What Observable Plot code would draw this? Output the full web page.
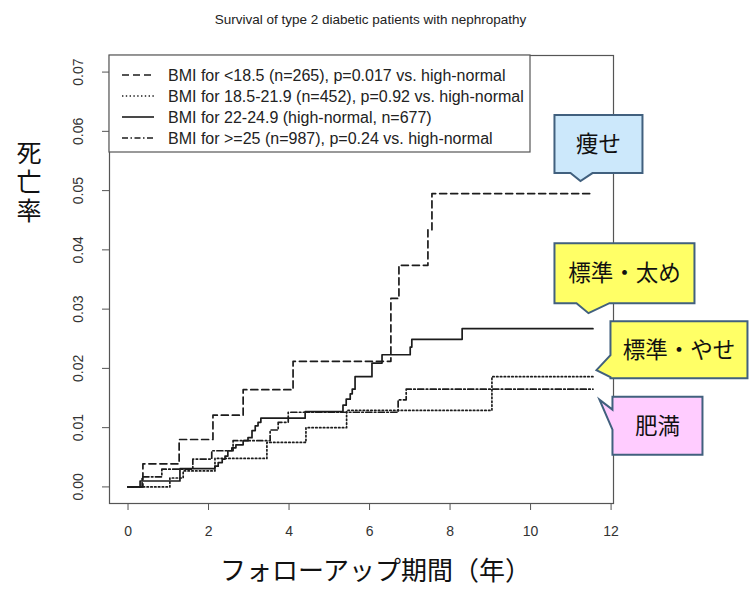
<!DOCTYPE html>
<html><head><meta charset="utf-8">
<script src="https://cdn.jsdelivr.net/npm/d3@7"></script>
<script src="https://cdn.jsdelivr.net/npm/@observablehq/plot@0.6"></script>
<style>
body{margin:0;background:#fff}
#chart{position:relative;width:750px;height:595px}
</style>
</head><body><div id="chart"></div>
<script>
// ---------- text ----------
const chartTitle = "Survival of type 2 diabetic patients with nephropathy";
const xLabel = "フォローアップ期間（年）";
const yLabel = "死亡率";
const xTicks = [0, 2, 4, 6, 8, 10, 12];
const yTicks = [0.00, 0.01, 0.02, 0.03, 0.04, 0.05, 0.06, 0.07];
const seriesKeys = ["lt18", "mid", "normal", "ge25"];
const seriesLabels = [
  "BMI for <18.5 (n=265), p=0.017 vs. high-normal",
  "BMI for 18.5-21.9 (n=452), p=0.92 vs. high-normal",
  "BMI for 22-24.9 (high-normal, n=677)",
  "BMI for >=25 (n=987), p=0.24 vs. high-normal"
];
const calloutLabels = ["痩せ", "標準・やせ", "標準・太め", "肥満"];

// ---------- series (years, cumulative mortality) ----------
const lt18Time = [0, 0.37, 1.27, 2.11, 2.86, 4.10, 6.53, 6.73, 7.45, 7.55, 11.55];
const lt18Risk = [0, 0.0039, 0.0080, 0.0121, 0.0164, 0.0212, 0.0318, 0.0374, 0.0434, 0.0495, 0.0495];

const midTime = [0, 1.04, 1.37, 2.16, 3.45, 4.42, 5.43, 9.04, 11.55];
const midRisk = [0, 0.0015, 0.0027, 0.0048, 0.0075, 0.0100, 0.0129, 0.0186, 0.0186];

const normalTime = [0, 0.30, 1.29, 2.16, 2.24, 2.34, 2.41, 2.48, 2.58, 2.68, 2.86, 2.98, 3.08, 3.16, 3.23, 3.30, 4.40, 5.34, 5.42, 5.52, 5.57, 5.64, 6.06, 6.31, 7.01, 7.05, 8.30, 11.55];
const normalRisk = [0, 0.0010, 0.0031, 0.0035, 0.0041, 0.0047, 0.0052, 0.0061, 0.0066, 0.0071, 0.0078, 0.0083, 0.0095, 0.0103, 0.0109, 0.0116, 0.0127, 0.0138, 0.0148, 0.0157, 0.0165, 0.0186, 0.0209, 0.0223, 0.0236, 0.0249, 0.0267, 0.0267];

const ge25Time = [0, 0.35, 0.84, 1.61, 2.08, 2.61, 3.53, 3.73, 3.98, 6.71, 6.91, 11.55];
const ge25Risk = [0, 0.0017, 0.0030, 0.0047, 0.0061, 0.0078, 0.0096, 0.0109, 0.0126, 0.0147, 0.0165, 0.0165];

// ---------- build ----------
const seriesData = {
  lt18: [lt18Time, lt18Risk],
  mid: [midTime, midRisk],
  normal: [normalTime, normalRisk],
  ge25: [ge25Time, ge25Risk]
};
const dashes = {lt18: "7,4", mid: "1.4,2.4", normal: null, ge25: "6,2.5,1.5,2.5"};
const rows = seriesKeys.flatMap(k => seriesData[k][0].map((t, i) => ({key: k, t, r: seriesData[k][1][i]})));

const W = 750, H = 595;
const mL = 109, mR = 137, mT = 55, mB = 92;
const ink = "#1c1c1c", axisInk = "#555";
const sans = "'Liberation Sans', Arial, sans-serif";
const cjk = "'Noto Sans CJK JP', sans-serif";

const plot = Plot.plot({
  width: W, height: H,
  marginLeft: mL, marginRight: mR, marginTop: mT, marginBottom: mB,
  style: {fontFamily: sans, fontSize: "13px", color: axisInk, background: "#fff"},
  x: {domain: [-0.46, 12.06], label: null},
  y: {domain: [-0.0028, 0.0728], label: null},
  marks: [
    Plot.frame({stroke: axisInk, strokeWidth: 1.2}),
    Plot.axisX({ticks: xTicks, tickSize: 7, tickPadding: 16, fontSize: 14, fill: "#333", stroke: axisInk, tickFormat: d => String(d), label: null}),
    Plot.axisY({ticks: yTicks, tickSize: 7, tickPadding: 20, tickRotate: -90, fontSize: 14, fill: "#333", stroke: axisInk, tickFormat: d3.format(".2f"), label: null}),
    ...seriesKeys.map(k => Plot.line(rows.filter(d => d.key === k), {
      x: "t", y: "r", curve: "step-after", stroke: ink, strokeWidth: 1.7,
      strokeDasharray: dashes[k]
    })),
    Plot.text([chartTitle], {frameAnchor: "top", dx: 9, dy: -41, text: d => d, fontSize: 13.5, fill: "#222", fontFamily: sans}),
    Plot.text([xLabel], {frameAnchor: "bottom", dx: 14, dy: 76, text: d => d, fontSize: 26, fill: "#111", fontFamily: cjk}),
    Plot.text([yLabel], {frameAnchor: "left", dx: -93, dy: -98, text: d => d.split("").join("\n"), lineHeight: 1.16, fontSize: 25, fill: "#111", fontFamily: cjk})
  ]
});
document.getElementById("chart").appendChild(plot);

const svg = d3.select(plot);
const sx = plot.scale("x"), sy = plot.scale("y");

// ---------- legend ----------
const lg = svg.append("g").attr("transform", `translate(${mL},${mT})`).attr("text-anchor", "start");
lg.append("rect").attr("width", 421).attr("height", 97).attr("fill", "#fff").attr("stroke", axisInk).attr("stroke-width", 1.2);
seriesKeys.forEach((k, i) => {
  const y = 20 + i * 21;
  lg.append("line").attr("x1", 13).attr("x2", 45).attr("y1", y).attr("y2", y)
    .attr("stroke", ink).attr("stroke-width", 1.6).attr("stroke-dasharray", dashes[k]);
  lg.append("text").attr("x", 59).attr("y", y).attr("dy", "0.35em").attr("text-anchor", "start")
    .attr("font-family", sans).attr("font-size", 16).attr("fill", "#222").text(seriesLabels[i]);
});

// ---------- callouts (anchored to each curve's end) ----------
const calloutStyle = [
  {key: "lt18", label: calloutLabels[0], fill: "#cce8fb", off: [-12, -12], box: [-26, 62, -66, -8], side: "bottom", base: [-10, 12]},
  {key: "normal", label: calloutLabels[2], fill: "#ffff66", off: [-4, -15], box: [-34, 106, -70, -10], side: "bottom", base: [-12, 21]},
  {key: "mid", label: calloutLabels[1], fill: "#ffff66", off: [4, -6], box: [14, 151, -49, 8], side: "left", base: [-15, 7]},
  {key: "ge25", label: calloutLabels[3], fill: "#ffccff", off: [7, 11], box: [13, 103, -3, 55], side: "left", base: [10, 30]}
];
const cg = svg.append("g");
calloutStyle.forEach(c => {
  const [ts, rs] = seriesData[c.key];
  const tx = sx.apply(ts[ts.length - 1]) + c.off[0];
  const ty = sy.apply(rs[rs.length - 1]) + c.off[1];
  const L = tx + c.box[0], R = tx + c.box[1], T = ty + c.box[2], B = ty + c.box[3];
  let d;
  if (c.side === "bottom") {
    d = `M${L},${T}H${R}V${B}H${tx + c.base[1]}L${tx},${ty}L${tx + c.base[0]},${B}H${L}Z`;
  } else {
    d = `M${L},${T}H${R}V${B}H${L}V${ty + c.base[1]}L${tx},${ty}L${L},${ty + c.base[0]}Z`;
  }
  cg.append("path").attr("d", d).attr("fill", c.fill).attr("stroke", "#41607e").attr("stroke-width", 2).attr("stroke-linejoin", "miter");
  cg.append("text").attr("x", (L + R) / 2).attr("y", (T + B) / 2).attr("dy", "0.36em")
    .attr("text-anchor", "middle").attr("font-family", cjk).attr("font-size", 22.5).attr("fill", "#111").text(c.label);
});
</script>
</body></html>
